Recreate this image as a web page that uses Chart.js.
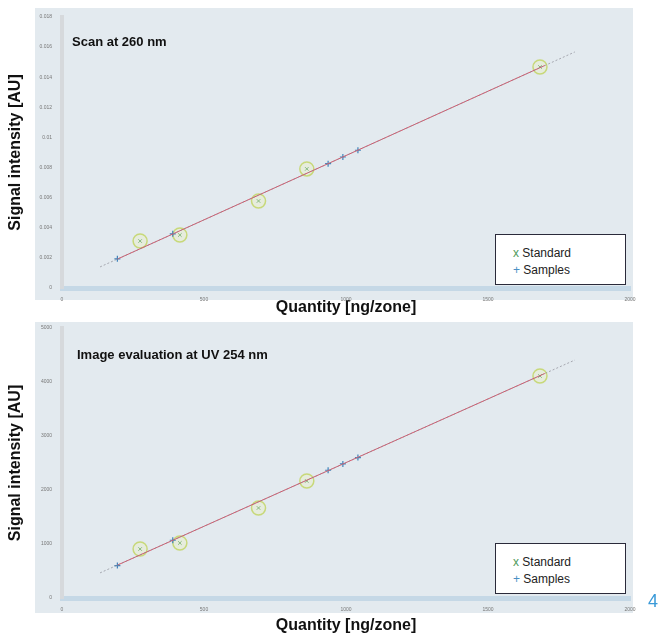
<!DOCTYPE html>
<html>
<head>
<meta charset="utf-8">
<script src="https://cdn.jsdelivr.net/npm/chart.js@4.4.1/dist/chart.umd.min.js"></script>
<style>
  body { margin: 0; background: #fff; font-family: "Liberation Sans", Arial, sans-serif; }
  #page { position: relative; width: 665px; height: 635px; overflow: hidden; }
  .panel { position: absolute; background: #e3eaef; }
  .wrap { position: absolute; left: 0; width: 665px; height: 317px; }
  .label { position: absolute; font-weight: bold; font-size: 13px; color: #111; }
  .legend { position: absolute; width: 131px; height: 51px; background: #fff; border: 1.5px solid #2a2a3a; box-sizing: border-box; font-size: 12px; color: #222; padding: 10px 0 0 17px; line-height: 17px; }
  .legend .x { color: #4f9a5a; }
  .legend .p { color: #4a8fc4; }
  #pagenum { position: absolute; left: 648px; top: 591px; font-size: 18px; color: #3b9ad8; }
</style>
</head>
<body>
<div id="page">
  <div class="panel" style="left:35px; top:8px; width:598px; height:292px;"></div>
  <div class="panel" style="left:35px; top:322px; width:598px; height:291px;"></div>
  <div class="wrap" style="top:0px;"><canvas id="scan"></canvas></div>
  <div class="wrap" style="top:318px;"><canvas id="image"></canvas></div>
  <div class="label" style="left:72px; top:34px;">Scan at 260 nm</div>
  <div class="label" style="left:77px; top:347px;">Image evaluation at UV 254 nm</div>
  <div class="legend" style="left:495px; top:234px;"><span class="x">x</span> Standard<br><span class="p">+</span> Samples</div>
  <div class="legend" style="left:495px; top:543px;"><span class="x">x</span> Standard<br><span class="p">+</span> Samples</div>
  <div id="pagenum">4</div>
</div>
<script>
// standards (ng/zone)
const standardQty = [275, 415, 692, 862, 1683];
const scanStandard = [0.00312, 0.00352, 0.00578, 0.00791, 0.01468];
const imageStandard = [907, 1019, 1667, 2167, 4111];

// samples lying on the calibration line
const sampleQty = [195, 390, 937, 989, 1042];
const scanSamples = [0.00194, 0.00360, 0.00826, 0.00870, 0.00915];
const imageSamples = [600, 1069, 2366, 2483, 2601];

// calibration line ends
const fitQty = [134, 1806];
const scanFit = [0.0014, 0.01568];
const imageFit = [465, 4407];
const fitRedQty = [195, 1700];
const scanFitRed = [0.00192, 0.01478];
const imageFitRed = [609, 4158];

const xTicks = [0, 500, 1000, 1500, 2000];
const scanTicks = [0, 0.002, 0.004, 0.006, 0.008, 0.01, 0.012, 0.014, 0.016, 0.018];
const imageTicks = [0, 1000, 2000, 3000, 4000, 5000];

function pts(xs, ys) {
    return xs.map(function(x, i) { return {x: x, y: ys[i]} })
}

function makeChart(id, std, smp, fit, fitRed, yTicks, padTop, xHeight) {
    const ctx = document.getElementById(id).getContext('2d');
    return new Chart(ctx, {
        type: 'scatter',
        data: {
            datasets: [
                {data: pts(fitQty, fit), showLine: true, borderColor: 'rgba(140,140,150,0.7)', borderWidth: 1, borderDash: [2, 2], pointRadius: 0},
                {data: pts(fitRedQty, fitRed), showLine: true, borderColor: '#d9566a', borderWidth: 1, pointRadius: 0},
                {data: pts(sampleQty, smp), pointStyle: 'cross', pointRadius: 3, borderColor: '#3f84bb', borderWidth: 1.2},
                {data: pts(standardQty, std), pointStyle: 'circle', pointRadius: 7, borderColor: 'rgba(196,214,110,0.9)', backgroundColor: 'rgba(236,242,190,0.35)', borderWidth: 1.5},
                {data: pts(standardQty, std), pointStyle: 'crossRot', pointRadius: 2.5, borderColor: '#4f9a5a', borderWidth: 1}
            ]
        },
        options: {
            responsive: false,
            animation: false,
            events: [],
            layout: {padding: {top: padTop, right: 35, left: 0, bottom: 0}},
            plugins: {legend: {display: false}, tooltip: {enabled: false}},
            scales: {
                x: {
                    type: 'linear', min: 0, max: 2000,
                    afterBuildTicks: function(s) { s.ticks = xTicks.map(function(v) { return {value: v} }) },
                    afterFit: function(s) { s.height = xHeight },
                    grid: {display: false, drawTicks: true},
                    border: {color: '#c5d8e6', width: 5},
                    ticks: {font: {size: 5}, color: '#777', padding: 1, callback: function(v) { return String(v) }},
                    title: {display: true, text: 'Quantity [ng/zone]', font: {size: 16, weight: 'bold', family: 'Liberation Sans'}, color: '#111', padding: {top: 1, bottom: 0}}
                },
                y: {
                    type: 'linear', min: yTicks[0], max: yTicks[yTicks.length - 1],
                    afterBuildTicks: function(s) { s.ticks = yTicks.map(function(v) { return {value: v} }) },
                    afterFit: function(s) { s.width = 62 },
                    grid: {display: false},
                    border: {color: '#d6d9dc', width: 4},
                    ticks: {font: {size: 5}, color: '#777', padding: 2, callback: function(v) { return String(+v.toFixed(4)) }},
                    title: {display: true, text: 'Signal intensity [AU]', font: {size: 16, weight: 'bold', family: 'Liberation Sans'}, color: '#111', padding: {top: 6, bottom: 0}}
                }
            }
        }
    })
}

const c1 = document.getElementById('scan');
c1.width = 665; c1.height = 317;
const c2 = document.getElementById('image');
c2.width = 665; c2.height = 317;

makeChart('scan', scanStandard, scanSamples, scanFit, scanFitRed, scanTicks, 17, 29);
makeChart('image', imageStandard, imageSamples, imageFit, imageFitRed, imageTicks, 10, 37);
</script>
</body>
</html>
